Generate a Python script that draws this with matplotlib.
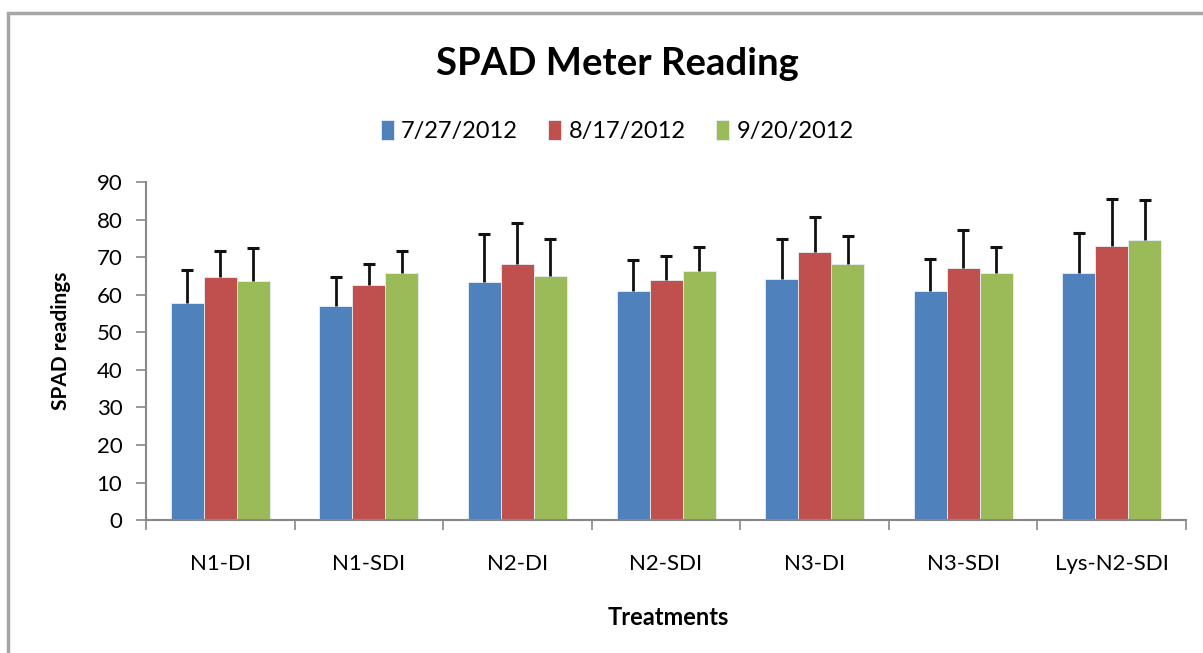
import numpy as np
import matplotlib.pyplot as plt
from matplotlib.patches import Rectangle

plt.rcParams['font.family'] = ['Lato', 'DejaVu Sans']

treatments = ['N1-DI', 'N1-SDI', 'N2-DI', 'N2-SDI', 'N3-DI', 'N3-SDI', 'Lys-N2-SDI']
dates = ['7/27/2012', '8/17/2012', '9/20/2012']

jul = [57.8, 56.9, 63.3, 60.9, 64.3, 61.1, 65.9]
aug = [64.6, 62.6, 68.2, 63.9, 71.4, 67.0, 72.9]
sep = [63.7, 65.9, 65.1, 66.4, 68.1, 65.7, 74.6]

jul_err = [8.8, 7.8, 12.8, 8.2, 10.5, 8.4, 10.5]
aug_err = [6.9, 5.5, 11.0, 6.5, 9.3, 10.1, 12.5]
sep_err = [8.6, 5.7, 9.7, 6.4, 7.5, 7.0, 10.5]

colors = ['#4F81BD', '#C0504D', '#9BBB59']

fig = plt.figure(figsize=(12.03, 6.53), dpi=100)
# gray chart frame (runs off the right and bottom edges like the screenshot)
fig.patches.append(Rectangle((0.007, -0.05), 1.1, 1.03, transform=fig.transFigure,
                             fill=False, edgecolor='#a6a6a6', linewidth=2.5))

ax = fig.add_axes([0.1214, 0.2034, 0.8645, 0.518])

x = np.arange(len(treatments)) + 0.5
w = 1 / 4.5
series = [jul, aug, sep]
errs = [jul_err, aug_err, sep_err]
for i, (vals, e) in enumerate(zip(series, errs)):
    pos = x + (i - 1) * w
    ax.bar(pos, vals, width=w, color=colors[i], edgecolor='#e8eef5', linewidth=0.6,
           label=dates[i], zorder=2)
    eb = ax.errorbar(pos, vals, yerr=[np.zeros(len(vals)), e], fmt='none', ecolor='#111111',
                     elinewidth=2, capsize=4.5, capthick=2.2, zorder=3)
    eb[1][0].set_visible(False)  # only the upper cap

ax.set_xlim(0, 7)
ax.set_ylim(0, 90)
ax.set_yticks(range(0, 91, 10))
ax.set_xticks(x)
ax.set_xticklabels(treatments)
ax.set_xticks(np.arange(0, 8), minor=True)
ax.tick_params(axis='x', which='major', length=0, pad=24, labelsize=16)
ax.tick_params(axis='x', which='minor', length=7, color='#888888', width=1.2)
ax.tick_params(axis='y', length=7, color='#888888', width=1.2, labelsize=16, pad=10)

for s in ['top', 'right']:
    ax.spines[s].set_visible(False)
for s in ['left', 'bottom']:
    ax.spines[s].set_color('#888888')
    ax.spines[s].set_linewidth(1.5)

ax.set_ylabel('SPAD readings', fontsize=15, fontweight='bold')
ax.yaxis.set_label_coords(-0.072, 0.53)
ax.set_xlabel('Treatments', fontsize=17, fontweight='bold')
ax.xaxis.set_label_coords(0.502, -0.255)

fig.text(0.513, 0.902, 'SPAD Meter Reading', ha='center', va='center',
         fontsize=27.5, fontweight='bold')

fig.legend(loc='center', bbox_to_anchor=(0.513, 0.799), ncol=3, frameon=False,
           fontsize=17, handlelength=0.55, handleheight=0.9, handletextpad=0.3,
           columnspacing=1.3)

fig.savefig('out.png', dpi=100)
